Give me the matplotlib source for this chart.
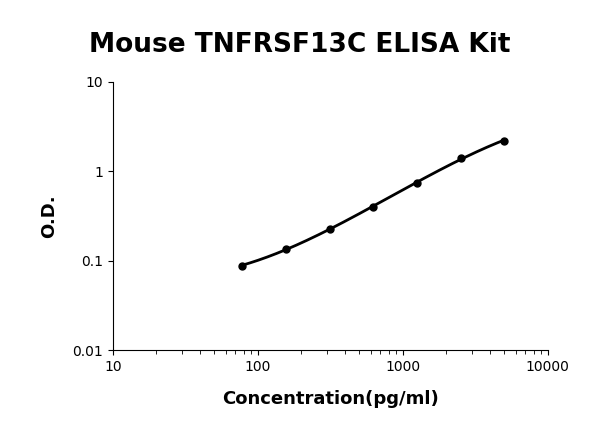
import numpy as np
import matplotlib
matplotlib.use("Agg")
import matplotlib.pyplot as plt

concentration = [78.125, 156.25, 312.5, 625, 1250, 2500, 5000]
od = [0.088, 0.135, 0.225, 0.40, 0.74, 1.40, 2.2]
x_ticks = [10, 100, 1000, 10000]
x_labels = ["10", "100", "1000", "10000"]
y_ticks = [0.01, 0.1, 1, 10]
y_labels = ["0.01", "0.1", "1", "10"]

fig = plt.figure(figsize=(6, 4.47), dpi=100)
ax = fig.add_axes([0.188, 0.217, 0.725, 0.6])

lx, ly = np.log10(concentration), np.log10(od)
coef = np.polyfit(lx, ly, 3)
xs = np.linspace(lx[0], lx[-1], 200)
ax.plot(10**xs, 10**np.polyval(coef, xs), color="black", lw=2)
ax.plot(concentration, od, "o", color="black", ms=5)

ax.set_xscale("log"); ax.set_yscale("log")
ax.set_xlim(10, 10000); ax.set_ylim(0.01, 10)
ax.set_xticks(x_ticks); ax.set_xticklabels(x_labels, fontsize=10)
ax.set_yticks(y_ticks); ax.set_yticklabels(y_labels, fontsize=10)
ax.yaxis.set_minor_locator(matplotlib.ticker.NullLocator())
ax.tick_params(which="minor", length=3)
for s in ["top", "right"]:
    ax.spines[s].set_visible(False)
ax.set_xlabel("Concentration(pg/ml)", fontsize=13, fontweight="bold", labelpad=12)
ax.set_ylabel("O.D.", fontsize=13, fontweight="bold", labelpad=10)
fig.text(0.5, 0.9, "Mouse TNFRSF13C ELISA Kit", ha="center", va="center",
         fontsize=19, fontweight="bold")
fig.savefig("out.png", dpi=100)
